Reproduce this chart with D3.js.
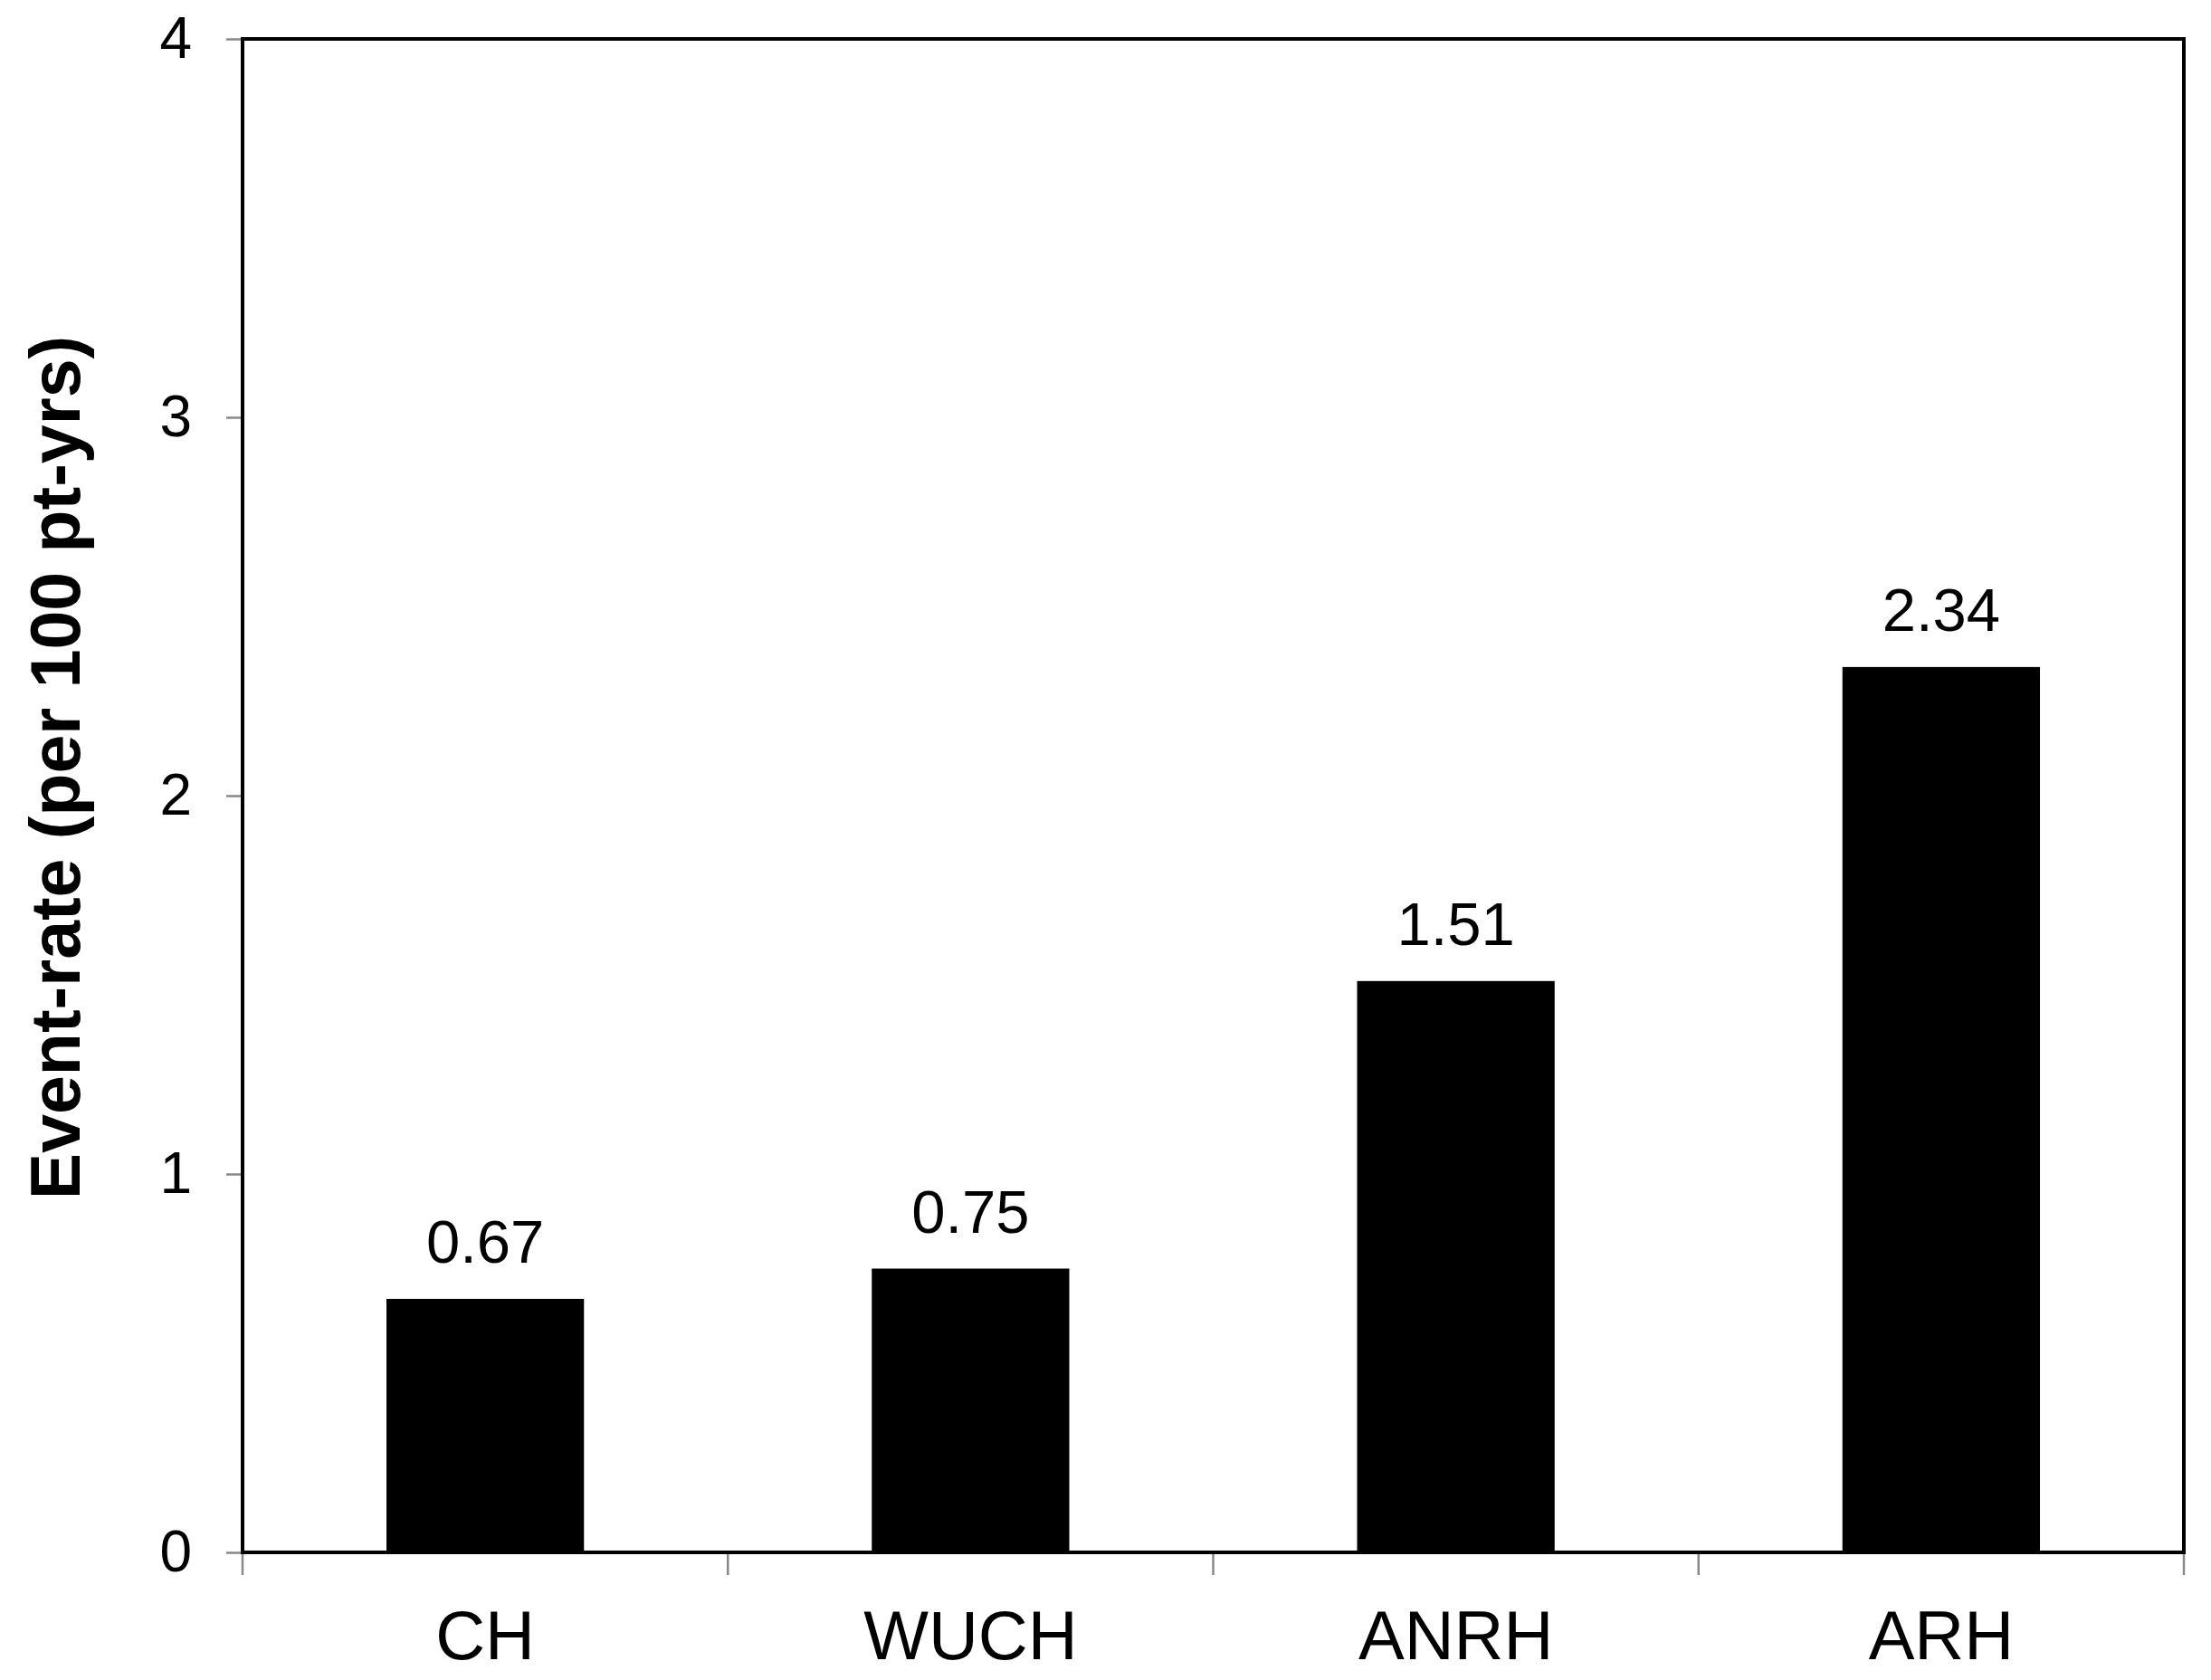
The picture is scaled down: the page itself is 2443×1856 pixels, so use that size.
<!DOCTYPE html>
<html><head><meta charset="utf-8">
<script src="https://cdn.jsdelivr.net/npm/d3@7"></script>
<style>body{margin:0;background:#fff}</style>
</head><body>
<script>
const categories = ["CH", "WUCH", "ANRH", "ARH"];
const values = [0.67, 0.75, 1.51, 2.34];
const valueLabels = ["0.67", "0.75", "1.51", "2.34"];
const yTicks = [0, 1, 2, 3, 4];
const yTitle = "Event-rate (per 100 pt-yrs)";

const W = 2443, H = 1856;
const m = {left: 268, top: 43, right: W - 2413, bottom: H - 1715};
const svg = d3.select("body").append("svg").attr("width", W).attr("height", H)
  .style("font-family", "'Liberation Sans', Arial, sans-serif");

const x = d3.scaleBand().domain(categories).range([m.left, W - m.right]).paddingInner(0.593).paddingOuter(0.2965);
const xOuter = d3.scaleBand().domain(categories).range([m.left, W - m.right]);
const y = d3.scaleLinear().domain([0, 4]).range([H - m.bottom, m.top]);

// bars
svg.append("g").selectAll("rect").data(values).join("rect")
  .attr("x", (d, i) => x(categories[i]))
  .attr("width", x.bandwidth())
  .attr("y", d => y(d))
  .attr("height", d => y(0) - y(d))
  .attr("fill", "#000");

// value labels
svg.append("g").selectAll("text").data(values).join("text")
  .attr("x", (d, i) => x(categories[i]) + x.bandwidth() / 2)
  .attr("y", d => y(d) - 40)
  .attr("text-anchor", "middle")
  .attr("font-size", 67)
  .text((d, i) => valueLabels[i]);

// y axis ticks
const yAxis = d3.axisLeft(y).tickValues(yTicks).tickSize(18).tickPadding(38).tickFormat(d3.format("d"));
const gy = svg.append("g").attr("transform", `translate(${m.left},0)`).call(yAxis);
gy.select(".domain").remove();
gy.selectAll(".tick line").attr("stroke", "#888").attr("stroke-width", 2.5);
gy.selectAll(".tick text").attr("font-size", 64).attr("fill", "#000").attr("font-family", "'Liberation Sans', Arial, sans-serif");

// x axis ticks at category boundaries
const bounds = categories.map(c => xOuter(c)).concat([W - m.right]);
svg.append("g").selectAll("line").data(bounds).join("line")
  .attr("x1", d => d).attr("x2", d => d)
  .attr("y1", y(0)).attr("y2", y(0) + 25)
  .attr("stroke", "#888").attr("stroke-width", 2.5);

// x labels
svg.append("g").selectAll("text").data(categories).join("text")
  .attr("x", d => xOuter(d) + xOuter.bandwidth() / 2)
  .attr("y", 1833)
  .attr("text-anchor", "middle")
  .attr("font-size", 76)
  .text(d => d);

// frame
svg.append("rect")
  .attr("x", m.left).attr("y", m.top)
  .attr("width", W - m.left - m.right).attr("height", H - m.top - m.bottom)
  .attr("fill", "none").attr("stroke", "#000").attr("stroke-width", 4);

// y title
svg.append("text")
  .attr("transform", `translate(88,848) rotate(-90)`)
  .attr("text-anchor", "middle")
  .attr("font-size", 77)
  .attr("font-weight", "bold")
  .text(yTitle);
</script>
</body></html>
